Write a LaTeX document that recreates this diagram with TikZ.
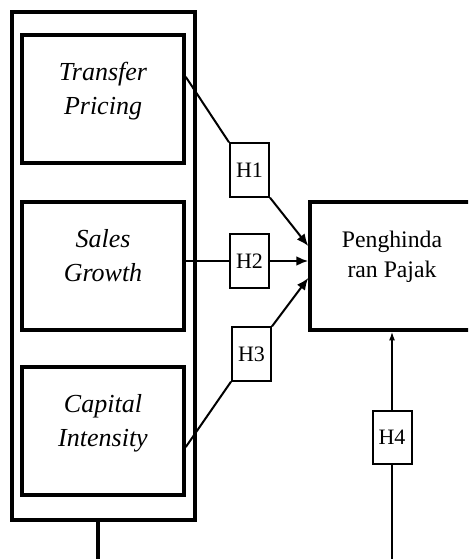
\documentclass[tikz,border=0pt]{standalone}
\usepackage{fontspec}
\setmainfont{Liberation Serif}
\usetikzlibrary{arrows.meta,calc}

\tikzset{
  framebox/.style={draw, line width=2.6pt, minimum width=137.25pt, minimum height=381pt},
  varbox/.style={draw, line width=2.6pt, minimum width=121.5pt, minimum height=96pt,
    align=center, text depth=16pt, font=\fontsize{19.5}{25}\selectfont\itshape},
  depbox/.style={draw, line width=2.6pt, minimum width=123pt, minimum height=96pt,
    align=center, text depth=18pt, font=\fontsize{17.8}{22.5}\selectfont},
  hbox/.style={draw, fill=white, line width=1.5pt, minimum width=29.25pt, minimum height=40pt,
    inner sep=0pt, font=\fontsize{16.5}{18}\selectfont},
  link/.style={line width=1.5pt},
  tip/.style={-{Latex[length=9pt,width=7.5pt]}}
}

\begin{document}
\begin{tikzpicture}[x=0.75pt, y=-0.75pt]
\useasboundingbox (0,0) rectangle (468,559);
\clip (0,0) rectangle (468,559);

\node[framebox] (frame) at (103.5,266) {};
\node[varbox] (tp) at (103,99)  {Transfer\\Pricing};
\node[varbox] (sg) at (103,266) {Sales\\Growth};
\node[varbox] (ci) at (103,431) {Capital\\Intensity};

\node[depbox] (pajak) at (392,266) {Penghinda\\ran Pajak};

\node[hbox] (h1) at (249.5,170) {H1};
\node[hbox] (h2) at (249.5,261) {H2};
\node[hbox] (h3) at (251.5,354) {H3};
\node[hbox] (h4) at (392,437.5) {H4};

\coordinate (base1) at (98,559);
\coordinate (base2) at (392,559);

\draw[link] (tp.15) -- (h1.north west);
\draw[link, tip] (h1.south east) -- ($(pajak.west)+(0,-20)$);
\draw[line width=2.2pt] (sg.east |- h2.west) -- (h2.west);
\draw[line width=2.2pt, tip] (h2.east) -- (pajak.west |- h2.east);
\draw[link] (ci.-11) -- (h3.south west);
\draw[link, tip] (h3.north east) -- ($(pajak.west)+(0,12)$);

\draw[line width=1.1pt] (base2) -- (h4.south);
\draw[line width=1.1pt, -{Latex[length=6.5pt,width=4.5pt]}] (h4.north) -- (h4.north |- pajak.south);
\draw[line width=2.4pt] (frame.south -| base1) -- (base1);

\end{tikzpicture}
\end{document}
